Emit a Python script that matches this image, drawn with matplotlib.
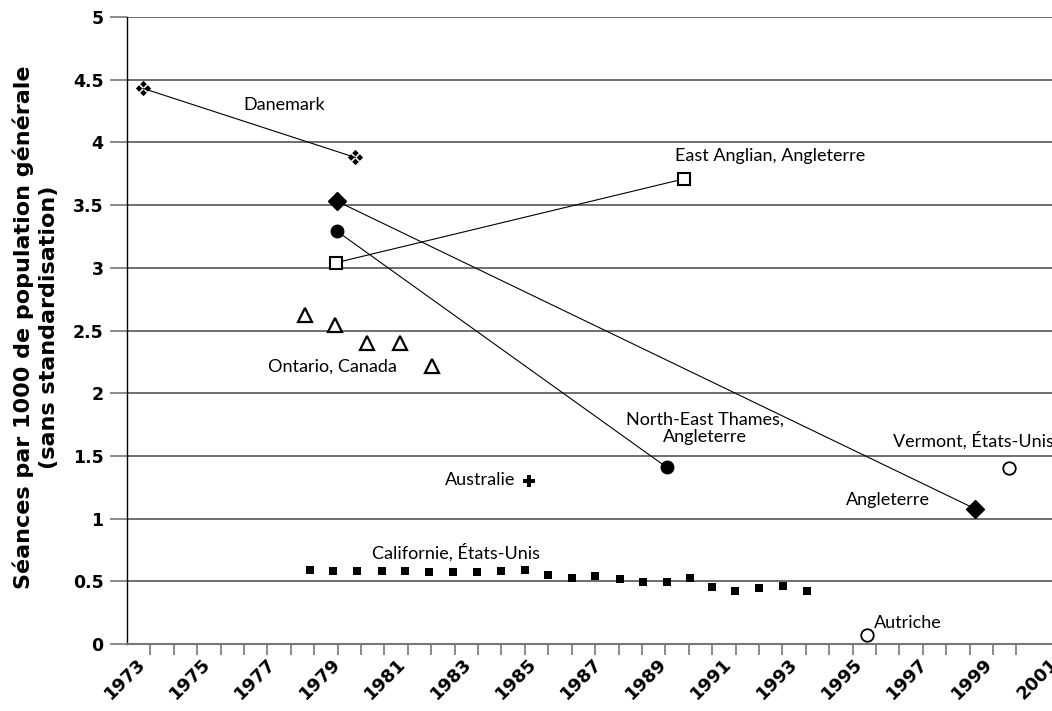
import matplotlib
matplotlib.use("Agg")
import matplotlib.pyplot as plt
import matplotlib.transforms as mtransforms
from matplotlib.path import Path
import numpy as np

# ---- données ----
danemark_x = [1973.5, 1980.0]
danemark_y = [4.43, 3.88]

east_anglian_x = [1979.4, 1990.1]
east_anglian_y = [3.04, 3.71]

angleterre_x = [1979.45, 1999.0]
angleterre_y = [3.53, 1.08]

ne_thames_x = [1979.45, 1989.55]
ne_thames_y = [3.29, 1.41]

ontario_x = [1978.45, 1979.38, 1980.36, 1981.37, 1982.36]
ontario_y = [2.62, 2.54, 2.40, 2.40, 2.22]

australie_x = [1985.33]
australie_y = [1.30]

vermont_x = [2000.05]
vermont_y = [1.40]

autriche_x = [1995.7]
autriche_y = [0.07]

californie_x = [1978.61, 1979.33, 1980.05, 1980.81, 1981.53, 1982.27, 1983.01,
                1983.75, 1984.46, 1985.22, 1985.90, 1986.64, 1987.36, 1988.12,
                1988.84, 1989.56, 1990.27, 1990.94, 1991.65, 1992.39, 1993.12,
                1993.86]
californie_y = [0.59, 0.584, 0.584, 0.582, 0.579, 0.576, 0.574, 0.574, 0.582,
                0.59, 0.55, 0.528, 0.542, 0.518, 0.492, 0.492, 0.528, 0.452,
                0.424, 0.446, 0.462, 0.424]

year_labels = list(range(1973, 2002, 2))
y_ticks = [0, 0.5, 1, 1.5, 2, 2.5, 3, 3.5, 4, 4.5, 5]

# marqueur "quatre losanges" pour le Danemark
def four_diamonds():
    paths = []
    for cx, cy in [(0, 1), (1, 0), (0, -1), (-1, 0)]:
        verts = [(cx, cy + 0.75), (cx + 0.75, cy), (cx, cy - 0.75),
                 (cx - 0.75, cy), (cx, cy + 0.75)]
        codes = [Path.MOVETO, Path.LINETO, Path.LINETO, Path.LINETO, Path.CLOSEPOLY]
        paths.append(Path(verts, codes))
    return Path.make_compound_path(*paths)

plt.rcParams['font.family'] = ['Lato', 'DejaVu Sans']
bold_font = ['DejaVu Sans']

fig = plt.figure(figsize=(10.52, 7.11), dpi=100)
ax = fig.add_axes([127 / 1052, 67 / 711, (1052 - 127) / 1052, 627 / 711])

ax.set_xlim(1973, 1973 + (1052 - 127) / 32.6)
ax.set_ylim(0, 5)

grid_c = '#777777'
ax.set_yticks(y_ticks)
ax.set_yticklabels(['0', '0.5', '1', '1.5', '2', '2.5', '3', '3.5', '4', '4.5', '5'],
                   fontsize=12.5, fontweight='bold', family=bold_font)
ax.yaxis.grid(True, color='#555555', linewidth=1.2)
ax.tick_params(axis='y', length=12, width=1.2, color=grid_c, pad=5)

ax.set_xticks(year_labels)
ax.set_xticklabels([str(y) for y in year_labels], rotation=45, ha='right',
                   va='top', rotation_mode='anchor', fontsize=13,
                   fontweight='bold', family=bold_font)
ax.set_xticks(np.linspace(1973, 2001, 40), minor=True)
ax.tick_params(axis='x', which='major', length=0, pad=8)
ax.tick_params(axis='x', which='minor', length=8, width=1.2, color=grid_c)
offset = mtransforms.ScaledTranslation(0.09, 0, fig.dpi_scale_trans)
for lab in ax.get_xticklabels():
    lab.set_transform(lab.get_transform() + offset)

for s in ['top', 'right']:
    ax.spines[s].set_visible(False)
ax.spines['bottom'].set_color(grid_c)
ax.spines['bottom'].set_linewidth(1.5)
ax.spines['left'].set_color('black')
ax.spines['left'].set_linewidth(1.0)
ax.set_axisbelow(True)

# séries
ax.plot(danemark_x, danemark_y, color='black', lw=0.8, marker=four_diamonds(),
        ms=11, mfc='black', mec='black', mew=0, clip_on=False)
ax.plot(east_anglian_x, east_anglian_y, color='black', lw=0.8, marker='s', ms=9,
        mfc='white', mec='black', mew=1.5)
ax.plot(angleterre_x, angleterre_y, color='black', lw=0.8, marker='D', ms=9,
        mfc='black', mec='black')
ax.plot(ne_thames_x, ne_thames_y, color='black', lw=0.8, marker='o', ms=9,
        mfc='black', mec='black')
ax.plot(ontario_x, ontario_y, ls='none', marker='^', ms=10, mfc='white',
        mec='black', mew=1.6)
ax.plot(australie_x, australie_y, ls='none', marker='P', ms=8, mfc='black',
        mec='black', mew=0)
ax.plot(vermont_x, vermont_y, ls='none', marker='o', ms=9, mfc='white',
        mec='black', mew=1.3)
ax.plot(autriche_x, autriche_y, ls='none', marker='o', ms=9, mfc='white',
        mec='black', mew=1.3, clip_on=False)
ax.plot(californie_x, californie_y, ls='none', marker='s', ms=6, mfc='black',
        mec='black', mew=0)

# étiquettes
fs = 13
ax.text(1976.56, 4.30, 'Danemark', fontsize=fs, va='center')
ax.text(1989.81, 3.89, 'East Anglian, Angleterre', fontsize=fs, va='center')
ax.text(1977.33, 2.215, 'Ontario, Canada', fontsize=fs, va='center')
ax.text(1990.73, 1.72, 'North-East Thames,\nAngleterre', fontsize=fs,
        va='center', ha='center', linespacing=1.1)
ax.text(1984.9, 1.31, 'Australie', fontsize=fs, va='center', ha='right')
ax.text(1996.5, 1.62, 'Vermont, États-Unis', fontsize=fs, va='center')
ax.text(1995.06, 1.15, 'Angleterre', fontsize=fs, va='center')
ax.text(1980.52, 0.733, 'Californie, États-Unis', fontsize=fs, va='center')
ax.text(1995.91, 0.167, 'Autriche', fontsize=fs, va='center')

ax.set_ylabel('Séances par 1000 de population générale\n(sans standardisation)',
              fontsize=16, fontweight='bold', family=bold_font, linespacing=1.3)
ax.yaxis.set_label_coords(-0.074, 0.505)

fig.savefig('out.png', dpi=100)
